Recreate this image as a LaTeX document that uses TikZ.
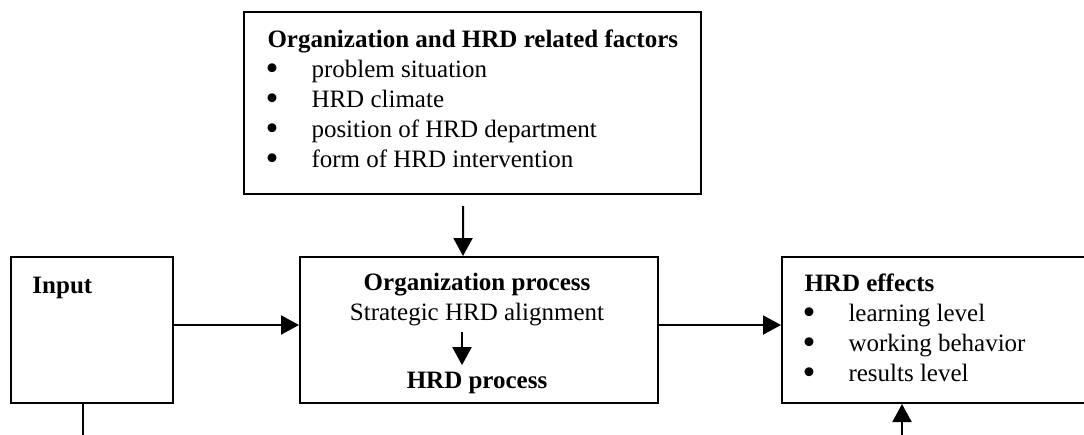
\documentclass[tikz,border=0pt]{standalone}
\usepackage{fontspec}
\setmainfont{Liberation Serif}
\newfontfamily\bulletfont{DejaVu Sans}
\usetikzlibrary{arrows.meta}
\newcommand{\itembullet}{\makebox[18pt][l]{\hspace{-1pt}\bulletfont\bfseries\textbullet}}

\begin{document}
\begin{tikzpicture}[x=0.4pt, y=-0.4pt,
  box/.style={draw, line width=0.8pt, inner sep=0pt, minimum height=58.4pt},
  txt/.style={inner sep=0pt, font=\fontsize{10}{12}\selectfont},
  head/.style={txt, font=\fontsize{10}{12}\selectfont\bfseries},
  arr/.style={line width=0.8pt, -{Triangle[length=7.2pt, width=7.6pt]}}]
  \useasboundingbox (0,0) rectangle (1084,434);
  \node[box, minimum width=182.8pt, minimum height=72.8pt] (factors) at (472.5,103) {};
  \node[box, minimum width=64.8pt] (input) at (92,330) {};
  \node[box, minimum width=143.2pt] (process) at (479,330) {};
  \node[box, minimum width=128pt] (effects) at (942,330) {};
  \node[head, anchor=base west] (factorstitle) at (267,47) {Organization and HRD related factors};
  \foreach \t [count=\i] in {problem situation, HRD climate, position of HRD department, form of HRD intervention}
    \node[txt, anchor=base west] (factor\i) at (266,47+30*\i) {\itembullet\t};
  \node[head, anchor=base west] (inputtitle) at (32,293) {Input};
  \node[head, anchor=base] (orgproc) at (477,290) {Organization process};
  \node[txt, anchor=base] (alignment) at (477,320) {Strategic HRD alignment};
  \node[head, anchor=base] (hrdproc) at (477,388) {HRD process};
  \node[head, anchor=base west] (effectstitle) at (804,291) {HRD effects};
  \foreach \t [count=\i] in {learning level, working behavior, results level}
    \node[txt, anchor=base west] (effect\i) at (803,291+30*\i) {\itembullet\t};
  \coordinate (inputout) at (83,440);
  \coordinate (feedback) at (902,440);
  \draw[arr, shorten <=4.4pt] ([xshift=-3.8pt]factors.south) -- ([xshift=-6.4pt]process.north);
  \draw[arr] ([yshift=2pt]input.east) -- ([yshift=2pt]process.west);
  \draw[arr] ([yshift=2pt]process.east) -- ([yshift=2pt]effects.west);
  \draw[arr, shorten <=2.6pt, shorten >=2.4pt] ([xshift=-6pt]alignment.south) -- ([xshift=-6pt]hrdproc.north);
  \draw[line width=0.8pt] (input.south -| inputout) -- (inputout);
  \draw[arr] (feedback) -- (feedback |- effects.south);
\end{tikzpicture}
\end{document}
